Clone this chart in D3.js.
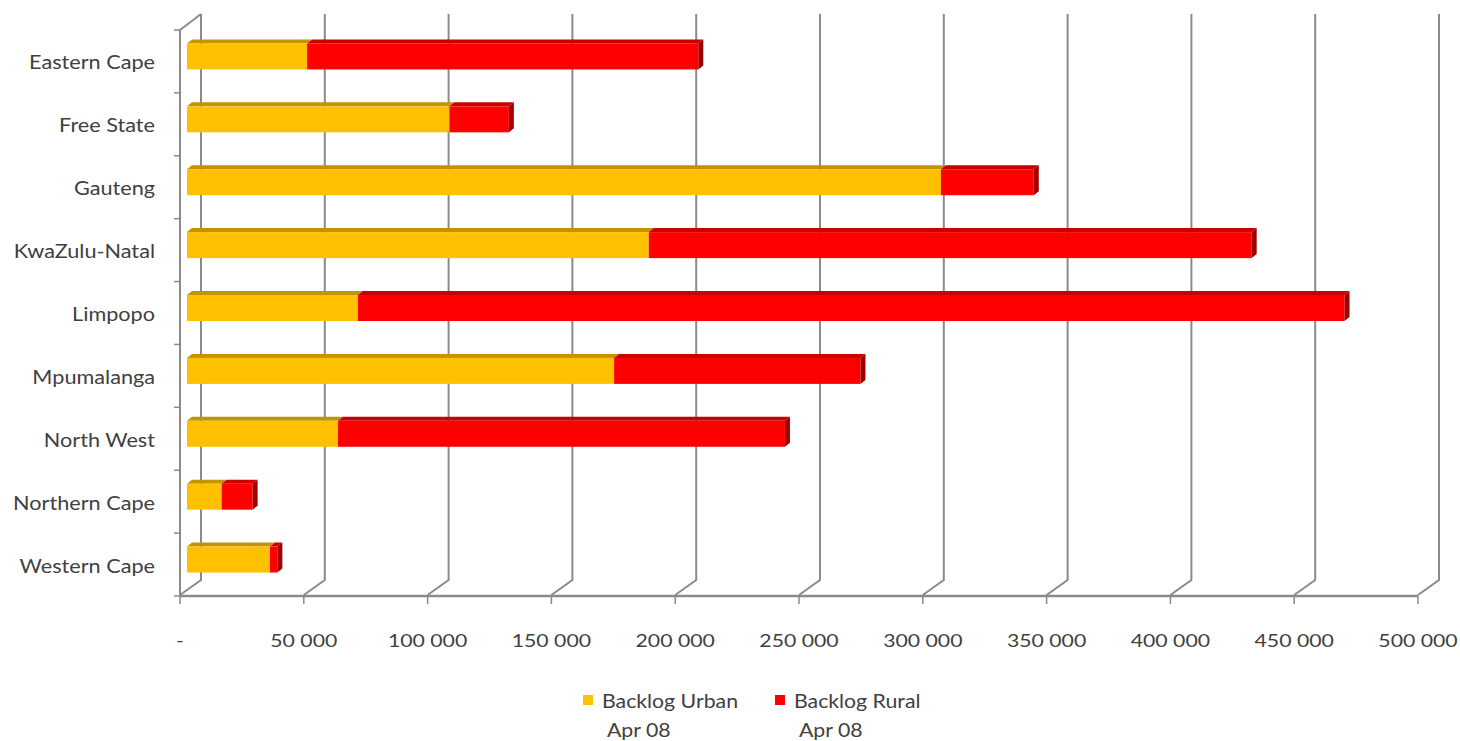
<!DOCTYPE html>
<html><head><meta charset="utf-8">
<script src="https://cdn.jsdelivr.net/npm/d3@7"></script>
<style>html,body{margin:0;padding:0;background:#fff;}svg{display:block;}</style>
</head><body>
<svg id="chart" width="1460" height="741"></svg>
<script>
const categories = ["Eastern Cape","Free State","Gauteng","KwaZulu-Natal","Limpopo","Mpumalanga","North West","Northern Cape","Western Cape"];
const urban = [48500, 106000, 304500, 186500, 69000, 172500, 61000, 14000, 33500];
const rural = [158000, 24000, 37500, 243500, 398500, 99500, 180500, 12500, 3000];
const tickValues = [0,50000,100000,150000,200000,250000,300000,350000,400000,450000,500000];
const seriesNames = [["Backlog Urban","Apr 08"],["Backlog Rural","Apr 08"]];

const svg = d3.select("#chart");
const font = "Lato, 'Open Sans', sans-serif";
const textCol = "#404040";
const x = d3.scaleLinear().domain([0,500000]).range([180,1418]);
const y = d3.scaleBand().domain(categories).range([30,596]);
const DX = 21, DY = -15;          // wall depth
const BX = 7, BY = -5;            // bar depth offset
const TX = 5, TY = -4;            // bar thickness depth
const barH = 26;
const grid = "#8a8a8a";

function stretchedText(tx, ty, str, size, anchor, sx){
  svg.append("text")
    .attr("transform",`translate(${tx},${ty}) scale(${sx},1)`)
    .attr("text-anchor",anchor).attr("font-family",font).attr("font-size",size)
    .attr("fill",textCol).text(str);
}

// back wall gridlines
tickValues.forEach(v=>{
  const fx = x(v);
  svg.append("path")
    .attr("d", `M${fx},595 L${fx+DX},${595+DY} L${fx+DX},14`)
    .attr("fill","none").attr("stroke",grid).attr("stroke-width",2);
});
// left axis (front) and top diagonal
svg.append("path").attr("d",`M180,596 L180,30 L${180+DX},14`)
  .attr("fill","none").attr("stroke",grid).attr("stroke-width",2);
// baseline
svg.append("line").attr("x1",180).attr("x2",x(500000)).attr("y1",596).attr("y2",596)
  .attr("stroke",grid).attr("stroke-width",2.5);
// x ticks
tickValues.forEach(v=>{
  svg.append("line").attr("x1",x(v)).attr("x2",x(v)).attr("y1",596).attr("y2",604)
    .attr("stroke",grid).attr("stroke-width",1.5);
});
// y ticks at band boundaries
categories.forEach(c=>{
  const yy = y(c);
  svg.append("line").attr("x1",174).attr("x2",180).attr("y1",yy).attr("y2",yy)
    .attr("stroke",grid).attr("stroke-width",1.5);
});
svg.append("line").attr("x1",174).attr("x2",180).attr("y1",596).attr("y2",596)
  .attr("stroke",grid).attr("stroke-width",1.5);

// x labels
const fmt = v => v===0 ? "-" : d3.format(",")(v).replace(/,/g," ");
tickValues.forEach(v=>{
  stretchedText(x(v), 647, fmt(v), 18, "middle", 1.18);
});
// category labels
categories.forEach(c=>{
  stretchedText(155, y(c)+y.bandwidth()/2+8, c, 19, "end", 1.14);
});

// bars
const colors = [{front:"#FFC000", top:"#C49400", side:"#B08400"},{front:"#FF0000", top:"#C80000", side:"#A00000"}];
function drawBox(x0,x1,yc,col,drawSide){
  const fy = yc + BY - barH/2;
  const fx0 = x0 + BX, fx1 = x1 + BX;
  svg.append("path").attr("d",`M${fx0},${fy} L${fx0+TX},${fy+TY} L${fx1+TX},${fy+TY} L${fx1},${fy} Z`)
    .attr("fill",col.top);
  svg.append("rect").attr("x",fx0).attr("y",fy).attr("width",Math.max(0,fx1-fx0)).attr("height",barH)
    .attr("fill",col.front);
  if(drawSide){
    svg.append("path").attr("d",`M${fx1},${fy} L${fx1+TX},${fy+TY} L${fx1+TX},${fy+TY+barH} L${fx1},${fy+barH} Z`)
      .attr("fill",col.side);
  }
}
categories.forEach((c,i)=>{
  const yc = y(c)+y.bandwidth()/2;
  drawBox(x(0), x(urban[i]), yc, colors[0], false);
  drawBox(x(urban[i]), x(urban[i]+rural[i]), yc, colors[1], true);
});

// legend
const legX = [583, 775];
seriesNames.forEach((n,i)=>{
  svg.append("rect").attr("x",legX[i]).attr("y",695).attr("width",10).attr("height",10)
    .attr("fill",colors[i].front);
  stretchedText(legX[i]+19, 708, n[0], 18.5, "start", 1.15);
  stretchedText(legX[i]+24, 737, n[1], 18.5, "start", 1.15);
});
</script>
</body></html>
